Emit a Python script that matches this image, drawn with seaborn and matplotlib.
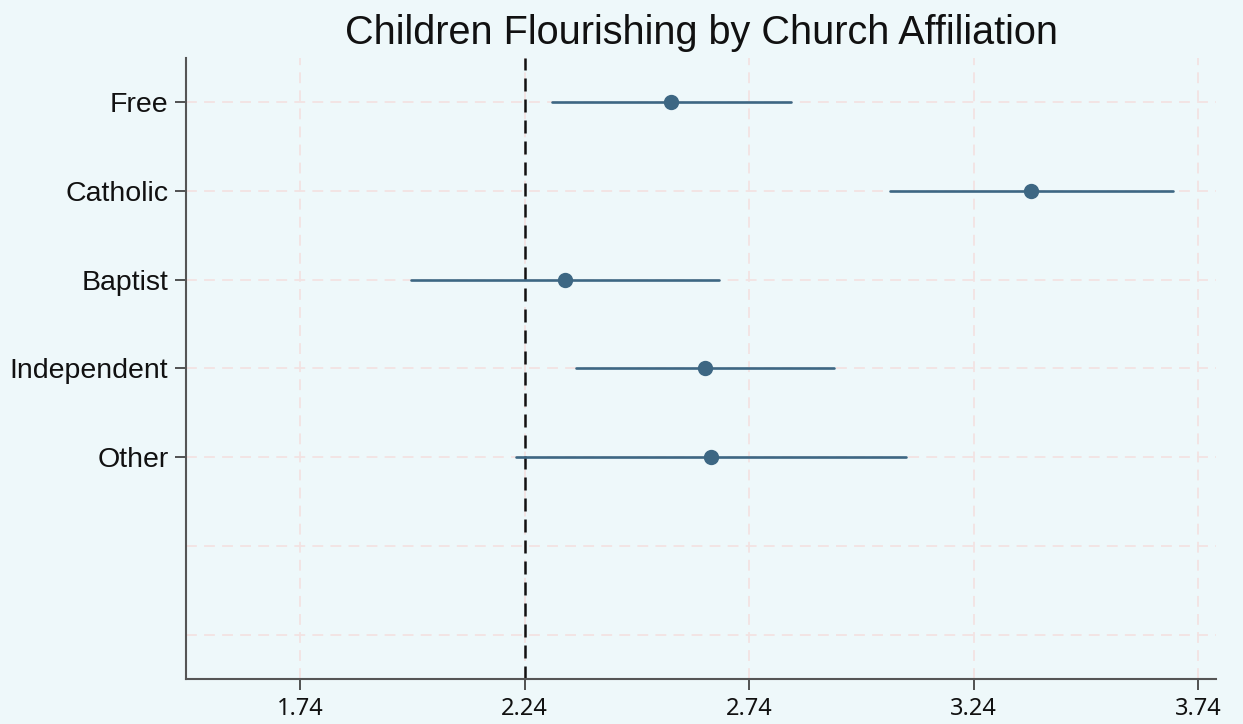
import numpy as np
import pandas as pd
import matplotlib
matplotlib.use("Agg")
import matplotlib.pyplot as plt
import seaborn as sns

# ---- data ----
categories = ["Free", "Catholic", "Baptist", "Independent", "Other"]
means = [2.567, 3.368, 2.331, 2.641, 2.655]
ci_low = [2.300, 3.053, 1.987, 2.355, 2.222]
ci_high = [2.834, 3.685, 2.672, 2.930, 3.090]
x_ticks = [1.74, 2.24, 2.74, 3.24, 3.74]
ref_value = 2.24
title = "Children Flourishing by Church Affiliation"

BG = "#eef8fa"
POINT = "#3d6783"
GRID = "#f3e2e2"

sns.set_theme(style="white")
plt.rcParams["font.family"] = ["Liberation Sans", "DejaVu Sans"]

# long format: low / mean / high per category -> median is the mean, 100% interval is the CI
rows = []
for c, lo, m, hi in zip(categories, ci_low, means, ci_high):
    for v in (lo, m, hi):
        rows.append({"church": c, "score": v})
df = pd.DataFrame(rows)

fig = plt.figure(figsize=(12.43, 7.24), dpi=100, facecolor=BG)
ax = fig.add_axes([0.150, 0.0622, 0.828, 0.858])
ax.set_facecolor(BG)

# grid lines
for xt in x_ticks:
    ax.axvline(xt, color=GRID, lw=1.3, dashes=(6, 4), zorder=0)
for yp in range(7):
    ax.axhline(yp, color=GRID, lw=1.3, dashes=(6, 4), zorder=0)

ax.axvline(ref_value, color="#111111", lw=1.8, dashes=(5.2, 3.2), zorder=1)

sns.pointplot(
    data=df, x="score", y="church", order=categories,
    estimator="median", errorbar=("pi", 100),
    color=POINT, linestyle="none", markersize=9,
    err_kws={"linewidth": 1.9}, ax=ax, zorder=3,
)

ax.set_ylim(6.5, -0.5)
ax.set_xlim(1.487, 3.779)
ax.set_yticks(range(len(categories)))
ax.set_yticklabels(categories, fontsize=20.5, color="#111111")
ax.set_xticks(x_ticks)
ax.set_xticklabels([f"{v:.2f}" for v in x_ticks], fontsize=17, color="#111111",
                   family=["Noto Sans", "DejaVu Sans"])
ax.set_xlabel("")
ax.set_ylabel("")

ax.tick_params(axis="both", which="both", length=8, width=1.3, color="#444444",
               left=True, bottom=True, pad=5)
for s in ("top", "right"):
    ax.spines[s].set_visible(False)
for s in ("left", "bottom"):
    ax.spines[s].set_color("#555555")
    ax.spines[s].set_linewidth(1.5)

ax.set_title(title, fontsize=28.5, pad=10, color="#111111")

fig.savefig("out.png", dpi=100, facecolor=BG)
